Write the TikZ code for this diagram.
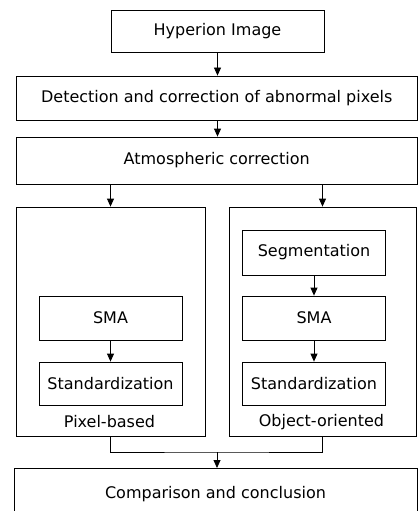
\documentclass[tikz,border=0pt]{standalone}
\usepackage{fontspec}
\setmainfont{DejaVu Sans}
\usetikzlibrary{arrows.meta}
\begin{document}
\begin{tikzpicture}[x=1pt,y=-1pt,
  box/.style={draw, line width=0.8pt, inner sep=0pt, font=\fontsize{16}{19}\selectfont},
  lbl/.style={inner sep=0pt, font=\fontsize{16}{19}\selectfont},
  arr/.style={draw, line width=0.8pt, -{Triangle[width=7pt,length=8pt]}},
  ln/.style={draw, line width=0.8pt}]
\useasboundingbox (0,0) rectangle (418,511);
\node[box, minimum width=213, minimum height=42] (hyp) at (217.5,31) {Hyperion Image};
\node[box, minimum width=401.5, minimum height=44] (det) at (216.75,98) {Detection and correction of abnormal pixels};
\node[box, minimum width=401.5, minimum height=47] (atm) at (216.75,160.5) {Atmospheric correction};
\node[box, minimum width=189, minimum height=229] (pix) at (110.5,321.5) {};
\node[box, minimum width=187, minimum height=229] (obj) at (322.5,321.5) {};
\node[box, minimum width=143, minimum height=45] (seg) at (314,252.5) {Segmentation};
\node[box, minimum width=143, minimum height=44] (smaR) at (314,318) {SMA};
\node[box, minimum width=143, minimum height=43] (stdR) at (314,383.5) {Standardization};
\node[box, minimum width=143, minimum height=44] (smaL) at (110.5,318) {SMA};
\node[box, minimum width=143, minimum height=43] (stdL) at (110.5,383.5) {Standardization};
\node[lbl] (pbl) at (109.5,422) {Pixel-based};
\node[lbl] (ool) at (321.5,422) {Object-oriented};
\node[box, minimum width=403, minimum height=56, anchor=north west] (cmp) at (14,468) {};
\node[lbl] (cmpt) at (215.5,494) {Comparison and conclusion};
\coordinate (mj) at (217,452);
\draw[arr] (hyp.south) -- (hyp.south |- det.north);
\draw[arr] (hyp.south |- det.south) -- (hyp.south |- atm.north);
\draw[arr] (pix.north |- atm.south) -- (pix.north);
\draw[arr] (obj.north |- atm.south) -- (obj.north);
\draw[arr] (seg.south) -- (smaR.north);
\draw[arr] (smaR.south) -- (stdR.north);
\draw[arr] (smaL.south) -- (stdL.north);
\draw[ln] (pix.south) |- (mj) -| (obj.south);
\draw[arr] (mj) -- (mj |- cmp.north);
\end{tikzpicture}
\end{document}
